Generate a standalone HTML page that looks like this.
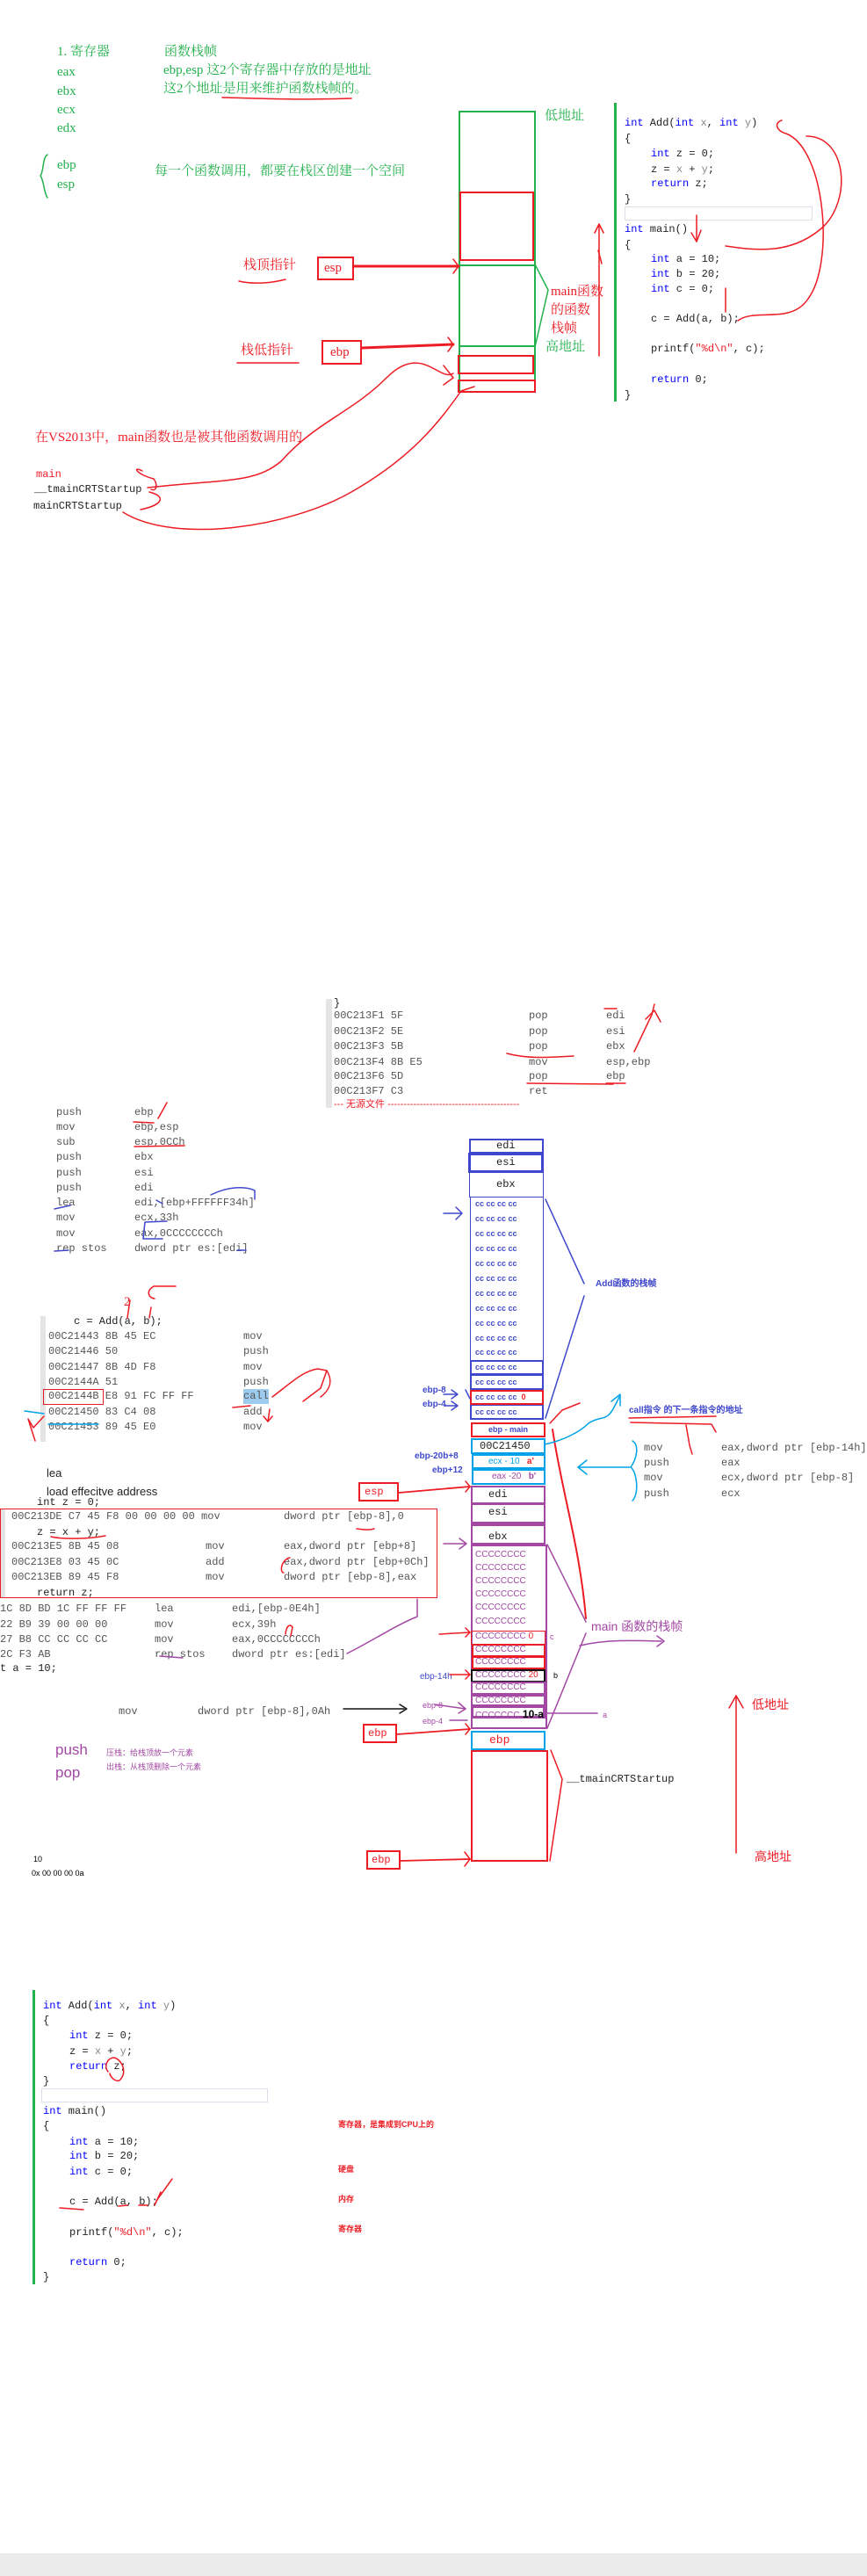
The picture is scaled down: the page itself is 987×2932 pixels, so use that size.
<!DOCTYPE html>
<html><head><meta charset="utf-8">
<style>
html,body{margin:0;padding:0;background:#fff;}
body{width:987px;height:2932px;position:relative;overflow:hidden;}
.t{position:absolute;white-space:pre;line-height:16px;}
.m{font-family:"Liberation Mono","DejaVu Sans Mono",monospace;font-size:12px;color:#222;}
.g{font-family:"Liberation Serif","Noto Serif CJK SC",serif;font-size:15px;color:#22b14c;}
.r{color:#ed1c24;}
.k{color:#0000ff;}
.gr{color:#888;}
.a{color:#555;}
.cj{font-family:"Liberation Sans","Noto Sans CJK SC",sans-serif;}
.cc{font-family:"Liberation Sans",sans-serif;font-size:9px;font-weight:bold;color:#3f48cc;}
.pc{font-family:"Liberation Sans",sans-serif;font-size:10px;color:#a349a4;}
.bx{position:absolute;box-sizing:border-box;}
svg{position:absolute;left:0;top:0;}
</style></head><body>

<!-- ============ SECTION 1 ============ -->
<div class="t g" style="left:65px;top:51px">1. 寄存器</div>
<div class="t g" style="left:187px;top:51px">函数栈帧</div>
<div class="t g" style="left:65px;top:74px">eax</div>
<div class="t g" style="left:65px;top:96px">ebx</div>
<div class="t g" style="left:65px;top:117px">ecx</div>
<div class="t g" style="left:65px;top:138px">edx</div>
<div class="t g" style="left:186px;top:72px">ebp,esp 这2个寄存器中存放的是地址</div>
<div class="t g" style="left:186px;top:93px">这2个地址是用来维护函数栈帧的。</div>
<div class="t g" style="left:65px;top:180px">ebp</div>
<div class="t g" style="left:65px;top:202px">esp</div>
<div class="t g" style="left:176px;top:187px">每一个函数调用，都要在栈区创建一个空间</div>
<div class="t g" style="left:620px;top:124px">低地址</div>
<div class="t g r" style="left:627px;top:324px">main函数</div>
<div class="t g r" style="left:627px;top:345px">的函数</div>
<div class="t g r" style="left:627px;top:366px">栈帧</div>
<div class="t g" style="left:621px;top:387px">高地址</div>
<div class="t g r" style="left:277px;top:294px">栈顶指针</div>
<div class="t g r" style="left:274px;top:391px">栈低指针</div>
<div class="bx" style="left:361px;top:292px;width:42px;height:27px;border:2px solid #ed1c24"></div>
<div class="t g r" style="left:369px;top:297px">esp</div>
<div class="bx" style="left:366px;top:387px;width:46px;height:28px;border:2px solid #ed1c24"></div>
<div class="t g r" style="left:376px;top:393px">ebp</div>
<div class="t g r" style="left:40px;top:490px">在VS2013中，main函数也是被其他函数调用的</div>
<div class="t m r" style="left:41px;top:532px">main</div>
<div class="t m" style="left:39px;top:549px">__tmainCRTStartup</div>
<div class="t m" style="left:38px;top:568px">mainCRTStartup</div>

<!-- stack 1 -->
<div class="bx" style="left:522px;top:126px;width:88px;height:321px;border:2px solid #22b14c"></div>
<div class="bx" style="left:523px;top:218px;width:85px;height:79px;border:2px solid #ed1c24"></div>
<div class="bx" style="left:522px;top:301px;width:88px;height:94px;border:2px solid #22b14c"></div>
<div class="bx" style="left:521px;top:404px;width:87px;height:22px;border:2px solid #ed1c24"></div>
<div class="bx" style="left:521px;top:432px;width:89px;height:15px;border:2px solid #ed1c24"></div>

<!-- code 1 -->
<div class="bx" style="left:699px;top:117px;width:3px;height:340px;background:#22b14c"></div>
<div class="bx" style="left:711px;top:235px;width:214px;height:16px;border:1px solid #dde0ea"></div>
<div class="t m" style="left:711px;top:132px"><span class="k">int</span> Add(<span class="k">int</span> <span class="gr">x</span>, <span class="k">int</span> <span class="gr">y</span>)</div>
<div class="t m" style="left:711px;top:150px">{</div>
<div class="t m" style="left:741px;top:167px"><span class="k">int</span> z = 0;</div>
<div class="t m" style="left:741px;top:185px">z = <span class="gr">x</span> + <span class="gr">y</span>;</div>
<div class="t m" style="left:741px;top:201px"><span class="k">return</span> z;</div>
<div class="t m" style="left:711px;top:219px">}</div>
<div class="t m" style="left:711px;top:253px"><span class="k">int</span> main()</div>
<div class="t m" style="left:711px;top:271px">{</div>
<div class="t m" style="left:741px;top:287px"><span class="k">int</span> a = 10;</div>
<div class="t m" style="left:741px;top:304px"><span class="k">int</span> b = 20;</div>
<div class="t m" style="left:741px;top:321px"><span class="k">int</span> c = 0;</div>
<div class="t m" style="left:741px;top:355px">c = Add(a, b);</div>
<div class="t m" style="left:741px;top:389px">printf(<span class="r">"%d\n"</span>, c);</div>
<div class="t m" style="left:741px;top:424px"><span class="k">return</span> 0;</div>
<div class="t m" style="left:711px;top:442px">}</div>

<!-- ============ SECTION 2 ============ -->
<div class="bx" style="left:371px;top:1137px;width:7px;height:124px;background:#e4e4e4"></div>
<div class="t m" style="left:380px;top:1134px">}</div>
<div class="t m a" style="left:380px;top:1148px">00C213F1 5F</div><div class="t m a" style="left:602px;top:1148px">pop</div><div class="t m a" style="left:690px;top:1148px">edi</div>
<div class="t m a" style="left:380px;top:1166px">00C213F2 5E</div><div class="t m a" style="left:602px;top:1166px">pop</div><div class="t m a" style="left:690px;top:1166px">esi</div>
<div class="t m a" style="left:380px;top:1183px">00C213F3 5B</div><div class="t m a" style="left:602px;top:1183px">pop</div><div class="t m a" style="left:690px;top:1183px">ebx</div>
<div class="t m a" style="left:380px;top:1201px">00C213F4 8B E5</div><div class="t m a" style="left:602px;top:1201px">mov</div><div class="t m a" style="left:690px;top:1201px">esp,ebp</div>
<div class="t m a" style="left:380px;top:1217px">00C213F6 5D</div><div class="t m a" style="left:602px;top:1217px">pop</div><div class="t m a" style="left:690px;top:1217px">ebp</div>
<div class="t m a" style="left:380px;top:1234px">00C213F7 C3</div><div class="t m a" style="left:602px;top:1234px">ret</div>
<div class="t m r cj" style="left:380px;top:1249px;font-size:11px">--- 无源文件 -----------------------------------------</div>

<div class="t m a" style="left:64px;top:1258px">push</div><div class="t m a" style="left:153px;top:1258px">ebp</div>
<div class="t m a" style="left:64px;top:1275px">mov</div><div class="t m a" style="left:153px;top:1275px">ebp,esp</div>
<div class="t m a" style="left:64px;top:1292px">sub</div><div class="t m a" style="left:153px;top:1292px">esp,0CCh</div>
<div class="t m a" style="left:64px;top:1309px">push</div><div class="t m a" style="left:153px;top:1309px">ebx</div>
<div class="t m a" style="left:64px;top:1327px">push</div><div class="t m a" style="left:153px;top:1327px">esi</div>
<div class="t m a" style="left:64px;top:1344px">push</div><div class="t m a" style="left:153px;top:1344px">edi</div>
<div class="t m a" style="left:64px;top:1361px">lea</div><div class="t m a" style="left:153px;top:1361px">edi,[ebp+FFFFFF34h]</div>
<div class="t m a" style="left:64px;top:1378px">mov</div><div class="t m a" style="left:153px;top:1378px">ecx,33h</div>
<div class="t m a" style="left:64px;top:1396px">mov</div><div class="t m a" style="left:153px;top:1396px">eax,0CCCCCCCCh</div>
<div class="t m a" style="left:64px;top:1413px">rep stos</div><div class="t m a" style="left:153px;top:1413px">dword ptr es:[edi]</div>

<div class="t g r" style="left:141px;top:1474px">2</div>
<div class="bx" style="left:46px;top:1498px;width:6px;height:143px;background:#e4e4e4"></div>
<div class="t m" style="left:84px;top:1496px">c = Add(a, b);</div>
<div class="bx" style="left:277px;top:1581px;width:29px;height:17px;background:#9ccbee"></div>
<div class="bx" style="left:49px;top:1581px;width:69px;height:18px;border:1.5px solid #ed1c24"></div>
<div class="t m a" style="left:55px;top:1513px">00C21443 8B 45 EC</div><div class="t m a" style="left:277px;top:1513px">mov</div>
<div class="t m a" style="left:55px;top:1530px">00C21446 50</div><div class="t m a" style="left:277px;top:1530px">push</div>
<div class="t m a" style="left:55px;top:1548px">00C21447 8B 4D F8</div><div class="t m a" style="left:277px;top:1548px">mov</div>
<div class="t m a" style="left:55px;top:1565px">00C2144A 51</div><div class="t m a" style="left:277px;top:1565px">push</div>
<div class="t m a" style="left:55px;top:1581px">00C2144B E8 91 FC FF FF</div><div class="t m a" style="left:277px;top:1581px">call</div>
<div class="t m a" style="left:55px;top:1599px">00C21450 83 C4 08</div><div class="t m a" style="left:277px;top:1599px">add</div>
<div class="t m a" style="left:55px;top:1616px">00C21453 89 45 E0</div><div class="t m a" style="left:277px;top:1616px">mov</div>

<!-- Add stack -->
<div class="bx" style="left:534px;top:1296px;width:85px;height:17px;border:2px solid #3f48cc"></div>
<div class="bx" style="left:533px;top:1312px;width:86px;height:23px;border:3px solid #3f48cc"></div>
<div class="bx" style="left:534px;top:1334px;width:85px;height:29px;border:1.5px solid #3f48cc"></div>
<div class="bx" style="left:535px;top:1362px;width:84px;height:254px;border:1.5px solid #3f48cc"></div>
<div class="bx" style="left:535px;top:1548px;width:84px;height:17px;border:2px solid #3f48cc"></div>
<div class="bx" style="left:535px;top:1564px;width:84px;height:18px;border:2px solid #3f48cc"></div>
<div class="bx" style="left:535px;top:1598px;width:84px;height:18px;border:2.5px solid #3f48cc"></div>
<div class="bx" style="left:535px;top:1582px;width:84px;height:17px;border:2px solid #ed1c24"></div>
<div class="t m" style="left:565px;top:1296px">edi</div>
<div class="t m" style="left:565px;top:1315px">esi</div>
<div class="t m" style="left:565px;top:1340px">ebx</div>
<div class="t cc" style="left:541px;top:1362px">cc cc cc cc</div>
<div class="t cc" style="left:541px;top:1379px">cc cc cc cc</div>
<div class="t cc" style="left:541px;top:1396px">cc cc cc cc</div>
<div class="t cc" style="left:541px;top:1413px">cc cc cc cc</div>
<div class="t cc" style="left:541px;top:1430px">cc cc cc cc</div>
<div class="t cc" style="left:541px;top:1447px">cc cc cc cc</div>
<div class="t cc" style="left:541px;top:1464px">cc cc cc cc</div>
<div class="t cc" style="left:541px;top:1481px">cc cc cc cc</div>
<div class="t cc" style="left:541px;top:1498px">cc cc cc cc</div>
<div class="t cc" style="left:541px;top:1515px">cc cc cc cc</div>
<div class="t cc" style="left:541px;top:1531px">cc cc cc cc</div>
<div class="t cc" style="left:541px;top:1548px">cc cc cc cc</div>
<div class="t cc" style="left:541px;top:1565px">cc cc cc cc</div>
<div class="t cc" style="left:541px;top:1582px">cc cc cc cc &nbsp;<span class="r">0</span></div>
<div class="t cc" style="left:541px;top:1599px">cc cc cc cc</div>
<div class="t cc cj" style="left:678px;top:1454px;font-size:10px">Add函数的栈帧</div>
<div class="t cc" style="left:481px;top:1575px;font-size:10px">ebp-8</div>
<div class="t cc" style="left:481px;top:1591px;font-size:10px">ebp-4</div>

<div class="bx" style="left:536px;top:1619px;width:85px;height:17px;border:2px solid #ed1c24"></div>
<div class="t cc r" style="left:556px;top:1619px">ebp - main</div>
<div class="bx" style="left:536px;top:1637px;width:85px;height:18px;border:2px solid #00a2e8"></div>
<div class="t m" style="left:546px;top:1638px">00C21450</div>
<div class="bx" style="left:537px;top:1655px;width:84px;height:17px;border:2px solid #00a2e8"></div>
<div class="t pc" style="left:556px;top:1656px;color:#00a2e8">ecx - 10 &nbsp;&nbsp;<span class="r" style="font-weight:bold">a'</span></div>
<div class="bx" style="left:537px;top:1672px;width:84px;height:18px;border:2px solid #00a2e8"></div>
<div class="t pc r" style="left:560px;top:1673px">eax -20 &nbsp;&nbsp;<b>b'</b></div>
<div class="t cc r" style="left:472px;top:1650px;font-size:10px">ebp-20b+8</div>
<div class="t cc r" style="left:492px;top:1666px;font-size:10px">ebp+12</div>
<div class="t cc r cj" style="left:716px;top:1598px;font-size:10px">call指令 的下一条指令的地址</div>
<div class="t m a" style="left:733px;top:1640px">mov</div><div class="t m a" style="left:821px;top:1640px">eax,dword ptr [ebp-14h]</div>
<div class="t m a" style="left:733px;top:1657px">push</div><div class="t m a" style="left:821px;top:1657px">eax</div>
<div class="t m a" style="left:733px;top:1674px">mov</div><div class="t m a" style="left:821px;top:1674px">ecx,dword ptr [ebp-8]</div>
<div class="t m a" style="left:733px;top:1692px">push</div><div class="t m a" style="left:821px;top:1692px">ecx</div>

<!-- Add body disasm -->
<div class="t m" style="left:53px;top:1669px;font-family:'Liberation Sans',sans-serif;font-size:13px">lea</div>
<div class="t m" style="left:53px;top:1690px;font-family:'Liberation Sans',sans-serif;font-size:13px">load effecitve address</div>
<div class="bx" style="left:0;top:1717px;width:6px;height:102px;background:#e4e4e4"></div>
<div class="t m" style="left:42px;top:1702px"><span>int z = 0;</span></div>
<div class="bx" style="left:0;top:1717px;width:498px;height:102px;border:1.5px solid #ed1c24"></div>
<div class="t m a" style="left:13px;top:1718px">00C213DE C7 45 F8 00 00 00 00 mov</div><div class="t m a" style="left:323px;top:1718px">dword ptr [ebp-8],0</div>
<div class="t m" style="left:42px;top:1736px">z = x + y;</div>
<div class="t m a" style="left:13px;top:1752px">00C213E5 8B 45 08</div><div class="t m a" style="left:234px;top:1752px">mov</div><div class="t m a" style="left:323px;top:1752px">eax,dword ptr [ebp+8]</div>
<div class="t m a" style="left:13px;top:1770px">00C213E8 03 45 0C</div><div class="t m a" style="left:234px;top:1770px">add</div><div class="t m a" style="left:323px;top:1770px">eax,dword ptr [ebp+0Ch]</div>
<div class="t m a" style="left:13px;top:1787px">00C213EB 89 45 F8</div><div class="t m a" style="left:234px;top:1787px">mov</div><div class="t m a" style="left:323px;top:1787px">dword ptr [ebp-8],eax</div>
<div class="t m" style="left:42px;top:1805px">return z;</div>
<div class="t m a" style="left:0px;top:1823px">1C 8D BD 1C FF FF FF</div><div class="t m a" style="left:176px;top:1823px">lea</div><div class="t m a" style="left:264px;top:1823px">edi,[ebp-0E4h]</div>
<div class="t m a" style="left:0px;top:1841px">22 B9 39 00 00 00</div><div class="t m a" style="left:176px;top:1841px">mov</div><div class="t m a" style="left:264px;top:1841px">ecx,39h</div>
<div class="t m a" style="left:0px;top:1858px">27 B8 CC CC CC CC</div><div class="t m a" style="left:176px;top:1858px">mov</div><div class="t m a" style="left:264px;top:1858px">eax,0CCCCCCCCh</div>
<div class="t m a" style="left:0px;top:1875px">2C F3 AB</div><div class="t m a" style="left:176px;top:1875px">rep stos</div><div class="t m a" style="left:264px;top:1875px">dword ptr es:[edi]</div>
<div class="t m" style="left:0px;top:1891px">t a = 10;</div>
<div class="t m a" style="left:135px;top:1940px">mov</div><div class="t m a" style="left:225px;top:1940px">dword ptr [ebp-8],0Ah</div>

<div class="t" style="left:63px;top:1981px;font-family:'Liberation Sans',sans-serif;font-size:17px;color:#a349a4;line-height:22px">push</div>
<div class="t" style="left:63px;top:2007px;font-family:'Liberation Sans',sans-serif;font-size:17px;color:#a349a4;line-height:22px">pop</div>
<div class="t pc cj" style="left:121px;top:1987px;font-size:9px">压栈：给栈顶放一个元素</div>
<div class="t pc cj" style="left:121px;top:2003px;font-size:9px">出栈：从栈顶删除一个元素</div>
<div class="t" style="left:38px;top:2108px;font-family:'Liberation Sans',sans-serif;font-size:9px">10</div>
<div class="t" style="left:36px;top:2124px;font-family:'Liberation Sans',sans-serif;font-size:9px">0x 00 00 00 0a</div>

<!-- main stack -->
<div class="bx" style="left:408px;top:1687px;width:46px;height:22px;border:2px solid #ed1c24"></div>
<div class="t m r" style="left:415px;top:1690px">esp</div>
<div class="bx" style="left:536px;top:1691px;width:85px;height:21px;border:2px solid #a349a4"></div>
<div class="bx" style="left:536px;top:1711px;width:85px;height:24px;border:2px solid #a349a4;border-bottom-width:3px"></div>
<div class="bx" style="left:536px;top:1735px;width:85px;height:24px;border:2px solid #a349a4;border-bottom-width:3px"></div>
<div class="t m" style="left:556px;top:1693px">edi</div>
<div class="t m" style="left:556px;top:1713px">esi</div>
<div class="t m" style="left:556px;top:1741px">ebx</div>
<div class="bx" style="left:536px;top:1758px;width:87px;height:210px;border:2px solid #a349a4"></div>
<div class="bx" style="left:536px;top:1856px;width:85px;height:16px;border:1.5px solid #ed1c24"></div>
<div class="bx" style="left:537px;top:1871px;width:84px;height:15px;border:2px solid #ed1c24"></div>
<div class="bx" style="left:537px;top:1885px;width:84px;height:15px;border:2px solid #ed1c24"></div>
<div class="bx" style="left:536px;top:1900px;width:85px;height:15px;border:2px solid #111"></div>
<div class="bx" style="left:536px;top:1914px;width:85px;height:15px;border:2px solid #a349a4"></div>
<div class="bx" style="left:536px;top:1929px;width:85px;height:13px;border:2px solid #a349a4"></div>
<div class="bx" style="left:536px;top:1941px;width:85px;height:15px;border:3px solid #a349a4"></div>
<div class="t pc" style="left:541px;top:1762px">CCCCCCCC</div>
<div class="t pc" style="left:541px;top:1777px">CCCCCCCC</div>
<div class="t pc" style="left:541px;top:1792px">CCCCCCCC</div>
<div class="t pc" style="left:541px;top:1807px">CCCCCCCC</div>
<div class="t pc" style="left:541px;top:1822px">CCCCCCCC</div>
<div class="t pc" style="left:541px;top:1838px">CCCCCCCC</div>
<div class="t pc" style="left:541px;top:1855px">CCCCCCCC <span class="r">0</span></div>
<div class="t pc" style="left:541px;top:1870px">CCCCCCCC</div>
<div class="t pc" style="left:541px;top:1884px">CCCCCCCC</div>
<div class="t pc" style="left:541px;top:1899px">CCCCCCCC <span class="r">20</span></div>
<div class="t pc" style="left:541px;top:1913px">CCCCCCCC</div>
<div class="t pc" style="left:541px;top:1928px">CCCCCCCC</div>
<div class="t pc" style="left:541px;top:1943px">CCCCCCC<b style="color:#000;font-size:12px"> 10-a</b></div>
<div class="t pc r" style="left:626px;top:1855px;font-size:9px">c</div>
<div class="t pc" style="left:630px;top:1899px;font-size:9px;color:#000">b</div>
<div class="t pc" style="left:686px;top:1944px;font-size:9px">a</div>
<div class="t cj" style="left:673px;top:1843px;font-size:14px;color:#a349a4">main 函数的栈帧</div>
<div class="t cc r" style="left:478px;top:1901px;font-size:10px;font-weight:normal">ebp-14h</div>
<div class="t pc" style="left:481px;top:1933px;font-size:9px">ebp-8</div>
<div class="t pc" style="left:481px;top:1951px;font-size:9px">ebp-4</div>
<div class="bx" style="left:536px;top:1970px;width:85px;height:22px;border:2px solid #00a2e8"></div>
<div class="t m r" style="left:557px;top:1973px;font-size:13px">ebp</div>
<div class="bx" style="left:536px;top:1992px;width:88px;height:127px;border:2px solid #ed1c24"></div>
<div class="t m" style="left:645px;top:2017px">__tmainCRTStartup</div>
<div class="bx" style="left:413px;top:1962px;width:39px;height:22px;border:2px solid #ed1c24"></div>
<div class="t m r" style="left:419px;top:1965px">ebp</div>
<div class="bx" style="left:417px;top:2106px;width:39px;height:22px;border:2px solid #ed1c24"></div>
<div class="t m r" style="left:423px;top:2109px">ebp</div>
<div class="t cj r" style="left:856px;top:1932px;font-size:14px">低地址</div>
<div class="t cj r" style="left:859px;top:2105px;font-size:14px">高地址</div>

<!-- ============ SECTION 3 ============ -->
<div class="bx" style="left:37px;top:2265px;width:3px;height:335px;background:#22b14c"></div>
<div class="bx" style="left:47px;top:2377px;width:258px;height:16px;border:1px solid #dde0ea"></div>
<div class="t m" style="left:49px;top:2275px"><span class="k">int</span> Add(<span class="k">int</span> <span class="gr">x</span>, <span class="k">int</span> <span class="gr">y</span>)</div>
<div class="t m" style="left:49px;top:2292px">{</div>
<div class="t m" style="left:79px;top:2309px"><span class="k">int</span> z = 0;</div>
<div class="t m" style="left:79px;top:2327px">z = <span class="gr">x</span> + <span class="gr">y</span>;</div>
<div class="t m" style="left:79px;top:2344px"><span class="k">return</span> z;</div>
<div class="t m" style="left:49px;top:2361px">}</div>
<div class="t m" style="left:49px;top:2395px"><span class="k">int</span> main()</div>
<div class="t m" style="left:49px;top:2412px">{</div>
<div class="t m" style="left:79px;top:2430px"><span class="k">int</span> a = 10;</div>
<div class="t m" style="left:79px;top:2446px"><span class="k">int</span> b = 20;</div>
<div class="t m" style="left:79px;top:2464px"><span class="k">int</span> c = 0;</div>
<div class="t m" style="left:79px;top:2498px">c = Add(a, b);</div>
<div class="t m" style="left:79px;top:2533px">printf(<span class="r">"%d\n"</span>, c);</div>
<div class="t m" style="left:79px;top:2567px"><span class="k">return</span> 0;</div>
<div class="t m" style="left:49px;top:2584px">}</div>
<div class="t cj r" style="left:385px;top:2410px;font-size:9px;font-weight:bold">寄存器，是集成到CPU上的</div>
<div class="t cj r" style="left:385px;top:2461px;font-size:9px;font-weight:bold">硬盘</div>
<div class="t cj r" style="left:385px;top:2495px;font-size:9px;font-weight:bold">内存</div>
<div class="t cj r" style="left:385px;top:2529px;font-size:9px;font-weight:bold">寄存器</div>
<div class="bx" style="left:0;top:2906px;width:987px;height:26px;background:#ebebeb"></div>

<svg width="987" height="2932" viewBox="0 0 987 2932" fill="none" stroke-linecap="round" stroke-linejoin="round">
<g stroke="#ed1c24" stroke-width="1.5">
<!-- section 1 -->
<path d="M253,111 C300,112 330,114 400,112"/>
<path d="M272,320 C290,324 310,322 325,318"/>
<path d="M270,413 L340,413"/>
<path d="M403,303 L522,303" stroke-width="3"/>
<path d="M516,295 L522,303 L516,311"/>
<path d="M412,396 L516,392" stroke-width="3"/>
<path d="M510,384 L516,392 L510,400"/>
<path d="M505,416 L516,430 L505,438"/>
<path d="M168,555 C260,545 290,550 320,525 C360,480 400,470 440,430 C480,390 500,435 516,425"/>
<path d="M140,583 C200,620 330,600 400,560 C470,520 500,480 525,445 L540,440"/>
<path d="M162,536 C150,530 155,540 175,545 C180,552 178,560 172,557"/>
<path d="M170,560 C190,565 185,575 160,580"/>
<path d="M682,405 L682,255"/><path d="M677,265 L682,255 L687,265"/>
<path d="M685,300 L681,285"/>
<path d="M890,137 C880,140 885,150 895,152 C940,170 950,300 920,340 C900,370 860,350 840,365"/>
<path d="M918,155 C965,155 970,230 935,260 C900,290 860,285 826,280"/>
<path d="M793,245 L793,275"/><path d="M787,265 L793,275 L798,262"/>
<path d="M826,328 L826,355"/>
<!-- section 2 -->
<path d="M688,1148 L702,1148"/><path d="M577,1199 C600,1205 620,1204 653,1202"/>
<path d="M600,1233 L698,1234"/><path d="M690,1233 L712,1233"/>
<path d="M722,1197 L742,1155 L745,1143"/><path d="M735,1160 L745,1150 L752,1163"/>
<path d="M152,1277 L175,1278"/><path d="M153,1305 L210,1304"/>
<path d="M180,1273 L190,1255"/>
<path d="M145,1500 L148,1480"/><path d="M170,1500 L172,1488"/>
<path d="M200,1464 L175,1464 C165,1470 170,1478 176,1478"/>
<path d="M310,1590 C330,1575 345,1560 362,1558 L372,1560 L365,1580 L345,1595"/>
<path d="M372,1560 C378,1570 378,1580 365,1590"/>
<path d="M307,1604 L305,1618"/><path d="M300,1612 L305,1618 L310,1612"/>
<path d="M265,1602 L285,1600"/>
<path d="M40,1640 L32,1615 L38,1625 L50,1612"/>
<path d="M629,1627 C640,1700 660,1760 667,1842" stroke-width="2"/>
<path d="M626,1620 L640,1605 L660,1597"/>
<path d="M716,1614 L815,1612"/><path d="M718,1619 L810,1621 L815,1630"/>
<path d="M781,1622 L785,1645 L788,1655"/>
<path d="M454,1699 L535,1692" stroke-width="1.8"/><path d="M530,1686 L535,1692 L530,1698"/>
<path d="M452,1974 L535,1968" stroke-width="1.8"/><path d="M530,1962 L535,1968 L530,1974"/>
<path d="M456,2118 L535,2116" stroke-width="1.8"/><path d="M529,2108 L535,2116 L529,2124"/>
<path d="M500,1860 L535,1858"/><path d="M530,1853 L535,1858 L530,1863"/>
<path d="M512,1906 L535,1906"/><path d="M530,1901 L535,1906 L530,1911"/>
<path d="M627,1992 L640,2025 L626,2118"/>
<path d="M838,2109 L838,1930"/><path d="M830,1944 L838,1930 L846,1944"/>
<path d="M325,1860 C326,1850 330,1848 333,1852 L331,1862"/>
<path d="M330,1773 C320,1775 318,1790 323,1790"/>
<path d="M406,1740 C414,1741 420,1742 426,1740"/>
<path d="M58,1749 C70,1752 100,1752 120,1748"/>
<path d="M68,2513 L95,2515"/><path d="M135,2511 L145,2510"/><path d="M158,2510 L168,2510"/>
<path d="M178,2505 L196,2480"/><path d="M176,2510 L183,2495"/>
<path d="M123,2358 C118,2352 122,2342 130,2342 C140,2345 145,2360 136,2368 C130,2370 125,2362 125,2360"/>
</g>
<g stroke="#3f48cc" stroke-width="1.5">
<path d="M621,1365 L665,1461"/><path d="M665,1475 L621,1614"/>
<path d="M505,1381 L525,1381"/><path d="M519,1374 L526,1381 L519,1388"/>
<path d="M535,1592 L530,1582"/>
<path d="M62,1376 L80,1372"/><path d="M240,1360 C260,1350 280,1350 290,1355 L290,1365"/>
<path d="M185,1370 L178,1366"/><path d="M165,1391 L190,1390 M165,1391 L163,1410 L185,1410"/>
<path d="M62,1424 L78,1423"/><path d="M270,1423 L280,1423"/>
<path d="M505,1587 L520,1587"/><path d="M514,1582 L521,1587 L514,1592"/>
<path d="M506,1600 L520,1600"/><path d="M514,1595 L521,1600 L514,1605"/>
</g>
<g stroke="#00a2e8" stroke-width="1.5">
<path d="M620,1644 C640,1640 660,1630 670,1620 C685,1610 690,1620 700,1600 L705,1590"/>
<path d="M696,1595 L706,1587 L706,1600"/>
<path d="M720,1640 C728,1645 725,1660 718,1670 C725,1675 728,1700 720,1708"/>
<path d="M717,1670 L658,1670"/><path d="M668,1662 L658,1670 L668,1678"/>
<path d="M28,1606 L50,1609"/><path d="M55,1621 L112,1621"/>
</g>
<g stroke="#a349a4" stroke-width="1.5">
<path d="M623,1758 L667,1846"/><path d="M667,1859 L623,1967"/>
<path d="M660,1873 C690,1866 720,1867 753,1868"/><path d="M748,1862 L756,1868 L748,1874"/>
<path d="M505,1757 L530,1757"/><path d="M523,1751 L531,1757 L523,1763"/>
<path d="M495,1940 L530,1945"/><path d="M522,1938 L530,1945 L522,1950"/>
<path d="M512,1958 L532,1958"/>
<path d="M623,1950 L680,1950"/>
<path d="M395,1882 C420,1870 450,1850 475,1840 L475,1820"/>
<path d="M182,1885 L208,1887"/>
</g>
<g stroke="#22b14c" stroke-width="1.5">
<path d="M609,301 L624,330 L609,395"/>
<path d="M54,176 C48,180 50,195 46,200 C50,205 50,220 54,225"/>
</g>
<g stroke="#111" stroke-width="1.5">
<path d="M391,1945 L460,1945"/><path d="M455,1940 L463,1945 L455,1950"/>
</g>
</svg>
</body></html>
